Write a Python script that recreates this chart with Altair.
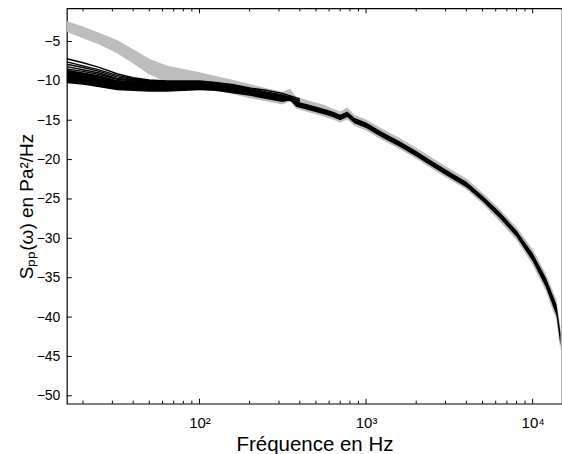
import altair as alt
import pandas as pd

# ---------------- data ----------------
freq = [16, 20, 25, 32, 40, 50, 64, 80, 100, 125, 160, 200, 250, 315, 350, 380,
        450, 550, 630, 700, 770, 850, 1000, 1250, 1600, 2000, 2500, 3150, 4000,
        5000, 6300, 8000, 10000, 12000, 13900, 14700]

gray_hi = [-2.4, -3.1, -3.9, -4.8, -6.0, -7.2, -8.1, -8.5, -8.9, -9.4, -9.9, -10.4,
           -10.9, -11.4, -11.0, -12.0, -12.5, -13.0, -13.5, -13.9, -13.4, -14.3,
           -14.9, -16.1, -17.3, -18.5, -19.8, -21.1, -22.4, -24.2, -26.2, -28.6,
           -31.4, -34.5, -37.8, -41.4]
gray_lo = [-3.8, -4.6, -5.4, -6.5, -7.8, -9.2, -10.2, -10.6, -10.8, -11.2, -11.7, -12.2,
           -12.6, -13.0, -12.6, -13.5, -14.0, -14.5, -14.9, -15.3, -14.9, -15.7,
           -16.3, -17.5, -18.7, -19.9, -21.2, -22.5, -23.8, -25.6, -27.8, -30.2,
           -33.4, -36.7, -40.4, -44.4]

black_hi = [-8.6, -8.9, -9.3, -9.9, -10.0, -10.1, -10.1, -10.1, -10.1, -10.4, -10.8, -11.2,
            -11.6, -12.0, -11.8, -12.6, -13.0, -13.5, -13.9, -14.3, -13.9, -14.7,
            -15.3, -16.5, -17.7, -18.9, -20.2, -21.5, -22.8, -24.6, -26.6, -29.0,
            -31.9, -35.0, -38.4, -42.1]
black_lo = [-10.3, -10.5, -10.8, -11.2, -11.3, -11.4, -11.4, -11.3, -11.2, -11.3, -11.6, -11.9,
            -12.3, -12.7, -12.5, -13.3, -13.7, -14.2, -14.6, -15.0, -14.6, -15.4,
            -16.0, -17.2, -18.4, -19.6, -20.9, -22.2, -23.5, -25.3, -27.4, -29.8,
            -32.9, -36.2, -39.8, -43.7]

# individual black curves that spread above the bundle at low frequency
low_freq = [16, 20, 25, 32, 40, 50, 64, 80, 100, 125, 160, 200, 250, 315, 400]
line_1 = [-7.2, -7.7, -8.3, -9.1, -9.6, -9.9, -10.0, -10.0, -10.0, -10.2, -10.5, -10.9, -11.2, -11.6, -12.3]
line_2 = [-7.6, -8.1, -8.6, -9.3, -9.7, -10.0, -10.1, -10.1, -10.1, -10.3, -10.6, -11.0, -11.4, -11.8, -12.5]
line_3 = [-7.9, -8.3, -8.8, -9.5, -9.8, -10.0, -10.1, -10.2, -10.2, -10.4, -10.7, -11.1, -11.5, -11.9, -12.6]
line_4 = [-8.2, -8.6, -9.0, -9.7, -9.9, -10.1, -10.2, -10.2, -10.3, -10.5, -10.8, -11.2, -11.6, -12.0, -12.8]
line_5 = [-8.5, -8.8, -9.2, -9.8, -10.0, -10.1, -10.2, -10.3, -10.4, -10.6, -10.9, -11.3, -11.8, -12.2, -12.9]

x_major = [100, 1000, 10000]
x_minor = [20, 30, 40, 50, 60, 70, 80, 90,
           200, 300, 400, 500, 600, 700, 800, 900,
           2000, 3000, 4000, 5000, 6000, 7000, 8000, 9000]
y_ticks = [-50, -45, -40, -35, -30, -25, -20, -15, -10, -5]

# ---------------- tables ----------------
band = pd.DataFrame({"f": freq, "g_hi": gray_hi, "g_lo": gray_lo,
                     "b_hi": black_hi, "b_lo": black_lo})
rows = []
for name, vals in [("l1", line_1), ("l2", line_2), ("l3", line_3),
                   ("l4", line_4), ("l5", line_5)]:
    for f, v in zip(low_freq, vals):
        rows.append({"f": f, "v": v, "s": name})
lines = pd.DataFrame(rows)
maj = pd.DataFrame({"f": x_major})
mnr = pd.DataFrame({"f": x_minor})
yt = pd.DataFrame({"v": y_ticks})

W, H = 496, 396
FONT = "Liberation Sans"

xs = alt.Scale(type="log", domain=[16, 15000], nice=False)
ys = alt.Scale(domain=[-51, -0.8], nice=False, zero=False)

x_axis = alt.Axis(values=x_major, ticks=False, domain=False, grid=False,
                  labelExpr="datum.value == 100 ? '10²' : datum.value == 1000 ? '10³' : '10⁴'",
                  labelFont=FONT, labelFontSize=15, labelColor="black",
                  labelBaseline="alphabetic", labelPadding=24,
                  title="Fréquence en Hz", titleFont=FONT, titleFontSize=20.5,
                  titleFontWeight="normal", titleColor="black",
                  titleBaseline="alphabetic", titleY=47)
y_axis = alt.Axis(values=y_ticks, ticks=False, domain=False, grid=False,
                  labelFont=FONT, labelFontSize=14, labelColor="black", labelPadding=7,
                  title="Sₚₚ(ω) en Pa²/Hz", titleFont=FONT, titleFontSize=19,
                  titleFontWeight="normal", titleColor="black",
                  titleBaseline="alphabetic", titleX=-34, titleY=H / 2)

gray = alt.Chart(band).mark_area(color="#bdbdbd", opacity=1).encode(
    x=alt.X("f:Q", scale=xs, axis=x_axis),
    y=alt.Y("g_hi:Q", scale=ys, axis=y_axis),
    y2="g_lo:Q",
)
black = alt.Chart(band).mark_area(color="black", opacity=1).encode(
    x=alt.X("f:Q", scale=xs),
    y=alt.Y("b_hi:Q", scale=ys),
    y2="b_lo:Q",
)
blines = alt.Chart(lines).mark_line(color="black", strokeWidth=1.4).encode(
    x=alt.X("f:Q", scale=xs),
    y=alt.Y("v:Q", scale=ys),
    detail="s:N",
)

tick_b_major = alt.Chart(maj).mark_rule(color="black", strokeWidth=1).encode(
    x=alt.X("f:Q", scale=xs), y=alt.value(H - 5), y2=alt.value(H))
tick_t_major = alt.Chart(maj).mark_rule(color="black", strokeWidth=1).encode(
    x=alt.X("f:Q", scale=xs), y=alt.value(0), y2=alt.value(5))
tick_b_minor = alt.Chart(mnr).mark_rule(color="black", strokeWidth=1).encode(
    x=alt.X("f:Q", scale=xs), y=alt.value(H - 3), y2=alt.value(H))
tick_t_minor = alt.Chart(mnr).mark_rule(color="black", strokeWidth=1).encode(
    x=alt.X("f:Q", scale=xs), y=alt.value(0), y2=alt.value(3))
tick_y = alt.Chart(yt).mark_rule(color="black", strokeWidth=1).encode(
    y=alt.Y("v:Q", scale=ys), x=alt.value(0), x2=alt.value(5))

chart = alt.layer(gray, black, blines, tick_b_major, tick_t_major,
                  tick_b_minor, tick_t_minor, tick_y).properties(
    width=W, height=H,
    autosize=alt.AutoSizeParams(type="none"),
    padding={"left": 67, "top": 8, "right": 0, "bottom": 50},
    background="white",
).configure_view(stroke="black", strokeWidth=1.2)

chart.save("out.html", embed_options={"renderer": "svg", "actions": False})
